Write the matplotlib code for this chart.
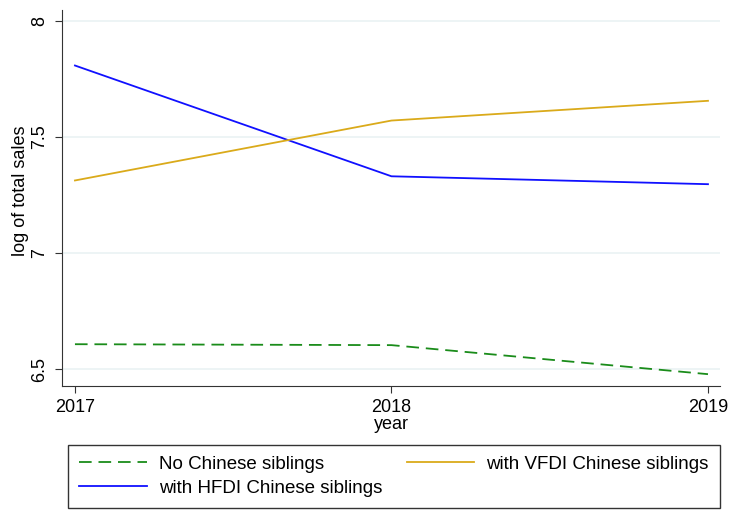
import matplotlib
matplotlib.use("Agg")
import matplotlib.pyplot as plt

plt.rcParams['font.family'] = ['Liberation Sans', 'DejaVu Sans']

years = [2017, 2018, 2019]
no_chinese = [6.607, 6.603, 6.478]
vfdi = [7.312, 7.570, 7.655]
hfdi = [7.807, 7.330, 7.296]
yticks = [6.5, 7, 7.5, 8]
ytick_labels = ["6.5", "7", "7.5", "8"]
series_labels = ["No Chinese siblings", "with HFDI Chinese siblings", "with VFDI Chinese siblings"]

fig = plt.figure(figsize=(7.3, 5.29), dpi=100)
ax = fig.add_axes([0.0849, 0.2703, 0.9014, 0.7108])

l1, = ax.plot(years, no_chinese, color='#1A8C1A', lw=1.3, dashes=(7, 3.8), label=series_labels[0])
l2, = ax.plot(years, hfdi, color='#1010FF', lw=1.3, label=series_labels[1])
l3, = ax.plot(years, vfdi, color='#DAAA1A', lw=1.3, label=series_labels[2])

ax.set_xlim(2016.959, 2019.038)
ax.set_ylim(6.427, 8.046)
ax.set_yticks(yticks)
ax.set_yticklabels(ytick_labels, rotation=90, va='center', fontsize=13)
ax.set_xticks(years)
ax.set_xticklabels([str(y) for y in years], fontsize=13)
ax.grid(axis='y', color='#EAF2F3', lw=1.2)
ax.set_axisbelow(True)
ax.spines['top'].set_visible(False)
ax.spines['right'].set_visible(False)
ax.spines['left'].set_color('#333333')
ax.spines['bottom'].set_color('#333333')
ax.tick_params(axis='both', length=5, color='#333333')
ax.tick_params(axis='x', pad=4)
ax.tick_params(axis='y', pad=5)
ax.set_xlabel("year", fontsize=13, labelpad=0)
ylab = ax.set_ylabel("log of total sales", fontsize=13, va='center')
ax.yaxis.set_label_coords(-0.0625, 0.52)

leg = fig.legend(handles=[l1, l2, l3], ncol=2, loc='lower left',
                 bbox_to_anchor=(0.093, 0.040, 0.893, 0.115), mode='expand',
                 fontsize=13.5, frameon=True, fancybox=False, edgecolor='black',
                 handlelength=3.6, handletextpad=0.64, borderaxespad=0, labelspacing=0.35,
                 borderpad=0.6)
leg.get_frame().set_linewidth(1.0)

fig.savefig("out.png", dpi=100)
